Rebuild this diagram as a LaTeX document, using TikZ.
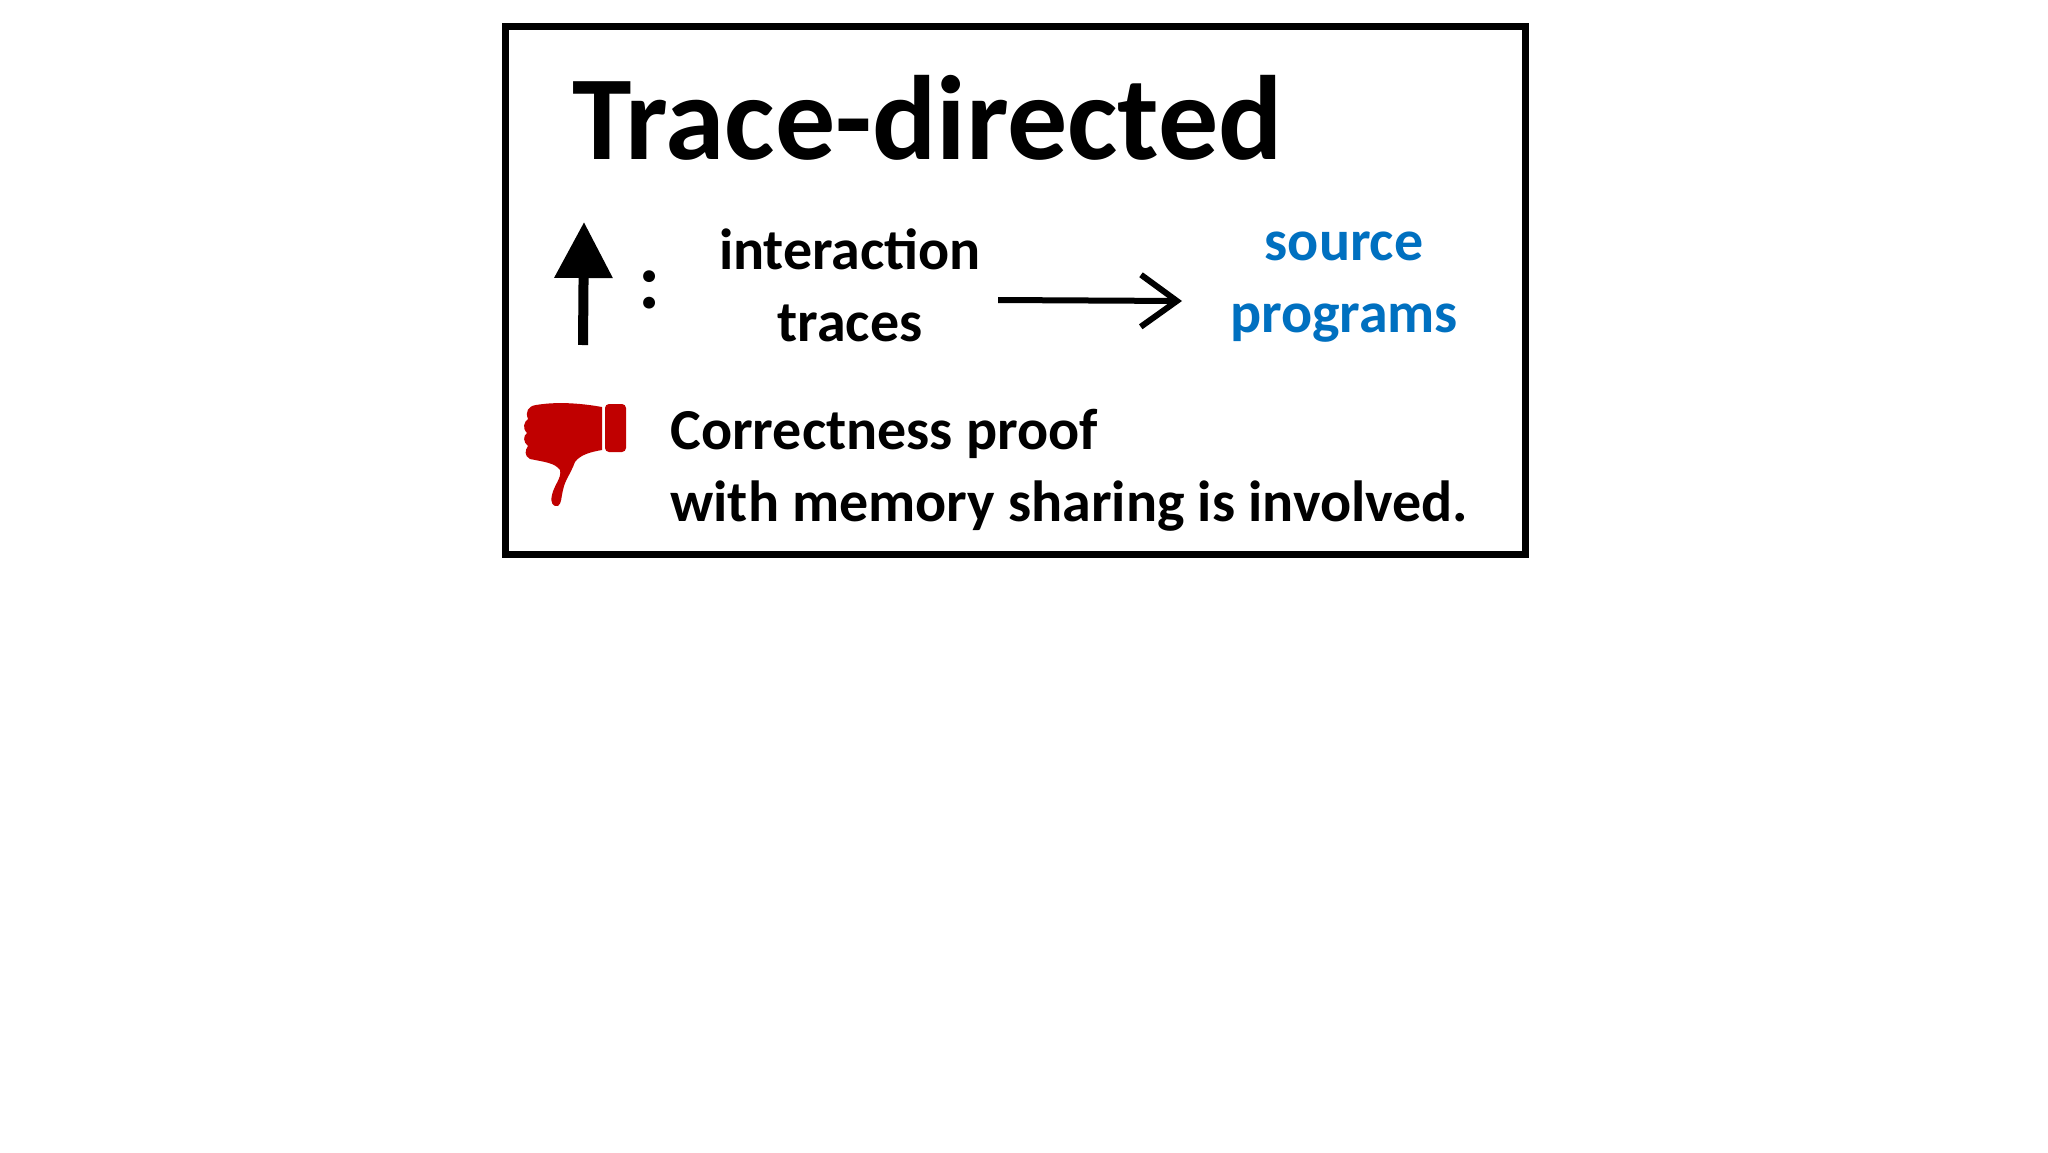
\documentclass[tikz,border=0pt]{standalone}
\usepackage{fontspec}
\setmainfont{Carlito}
\usetikzlibrary{arrows.meta}
\definecolor{srcblue}{RGB}{0,112,192}
\definecolor{thumbred}{RGB}{192,0,0}
\begin{document}
\begin{tikzpicture}[x=0.5pt,y=-0.5pt,
  lbl/.style={font=\bfseries\fontsize{29}{36}\selectfont, align=center, inner sep=0pt}]
\useasboundingbox (0,0) rectangle (2048,1152);
\fill[white] (0,0) rectangle (2048,1152);
\draw[line width=3.5pt] (505,26) rectangle (1525,554);
\node[anchor=west, inner sep=0pt, font=\bfseries\fontsize{60}{72}\selectfont] (title) at (572,118) {Trace-directed};
\coordinate (ub) at (583,345);
\coordinate (ut) at (584,222);
\draw[line width=5pt, -{Triangle[length=28pt,width=28pt]}] (ub) -- (ut);
\node[font=\bfseries\fontsize{40}{48}\selectfont, inner sep=0pt] (colon) at (650,290) {:};
\node[lbl] (it) at (850,285) {interaction\\traces};
\node[lbl, text=srcblue] (sp) at (1344,287) {source\\programs};
\coordinate (ra) at (998,300);
\coordinate (rb) at (1182,301);
\draw[line width=3pt, -{Straight Barb[length=18pt,width=26pt,line width=3pt]}] (ra) -- (rb);
% thumbs down
\fill[thumbred, rounded corners=2pt] (605,404) rectangle (626,452);
\fill[thumbred] (536,405) .. controls (560,401) and (585,404) .. (602,407)
  -- (602,450) .. controls (590,452) and (580,455) .. (575,462)
  .. controls (570,475) and (565,480) .. (563,490)
  .. controls (561,497) and (562,503) .. (558,506)
  .. controls (553,507) and (550,503) .. (552,495)
  .. controls (554,485) and (562,478) .. (560,470)
  .. controls (555,463) and (545,462) .. (530,459)
  .. controls (524,456) and (525,450) .. (528,446)
  .. controls (523,442) and (523,436) .. (527,433)
  .. controls (522,428) and (524,422) .. (528,419)
  .. controls (525,412) and (528,406) .. (536,405) -- cycle;
\node[anchor=west, align=left, font=\bfseries\fontsize{29}{36}\selectfont, inner sep=0pt] (proof) at (670,470) {Correctness proof\\with memory sharing is involved.};
\end{tikzpicture}
\end{document}
